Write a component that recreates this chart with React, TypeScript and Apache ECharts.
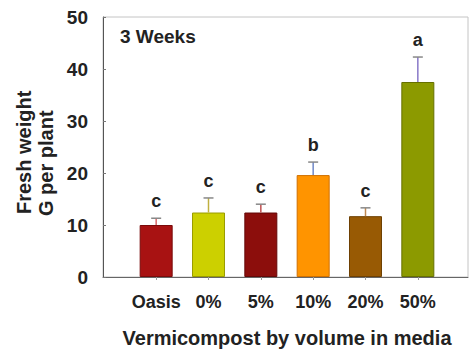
import React, { useEffect, useRef } from "react";
import * as echarts from "echarts";

const categories = ["Oasis", "0%", "5%", "10%", "20%", "50%"];
const means = [10.0, 12.4, 12.4, 19.6, 11.7, 37.5];
const errors = [1.3, 2.8, 1.6, 2.5, 1.6, 4.8];
const letters = ["c", "c", "c", "b", "c", "a"];
const yTicks = [0, 10, 20, 30, 40, 50];

const barColors = ["#a81212", "#ccd000", "#8c0e0c", "#ff9400", "#985a04", "#8c9a00"];
const barBorders = ["#7a0a0a", "#9a9c00", "#640808", "#d07000", "#6e4002", "#667000"];
const errColors = ["#d86868", "#c0b040", "#c05050", "#7088c8", "#c08850", "#8878c8"];

const FONT = "'Liberation Sans', Arial, sans-serif";

export default function App() {
  const ref = useRef<HTMLDivElement>(null);
  useEffect(() => {
    if (!ref.current) return;
    const chart = echarts.init(ref.current, null, { renderer: "svg" });
    chart.setOption({
      animation: false,
      backgroundColor: "#ffffff",
      textStyle: { fontFamily: FONT },
      grid: [
        { left: 103, right: 2, top: 17, bottom: 72, show: true, borderColor: "#c4c4c4", borderWidth: 1, backgroundColor: "transparent" },
        { left: 130, right: 26, top: 17, bottom: 72 },
      ],
      xAxis: [
        {
          gridIndex: 0, type: "value", min: 0, max: 1,
          axisLine: { show: true, lineStyle: { color: "#666", width: 1 } },
          axisTick: { show: false }, axisLabel: { show: false }, splitLine: { show: false },
        },
        {
          gridIndex: 1, type: "category", data: categories,
          axisLine: { show: false },
          axisTick: { show: true, alignWithLabel: true, interval: 0, length: 3, lineStyle: { color: "#999" } },
          axisLabel: { interval: 0, margin: 16, fontSize: 18, fontWeight: "bold", color: "#222", fontFamily: FONT },
        },
      ],
      yAxis: [
        {
          gridIndex: 0, type: "value", min: yTicks[0], max: yTicks[yTicks.length - 1], interval: 10,
          axisLine: { show: true, lineStyle: { color: "#555", width: 1 } },
          axisTick: { show: true, inside: true, length: 3, lineStyle: { color: "#777" } },
          axisLabel: { margin: 15, fontSize: 19, fontWeight: "bold", color: "#222", fontFamily: FONT },
          splitLine: { show: false },
        },
        { gridIndex: 1, type: "value", min: 0, max: 50, show: false },
      ],
      series: [
        {
          type: "bar", xAxisIndex: 1, yAxisIndex: 1, barWidth: 33,
          data: means.map((v, i) => ({
            value: v,
            itemStyle: { color: barColors[i], borderColor: barBorders[i], borderWidth: 1 },
          })),
        },
        {
          type: "custom", xAxisIndex: 1, yAxisIndex: 1, z: 5,
          data: means.map((m, i) => [i, m, m + errors[i]]),
          renderItem: (params: any, api: any) => {
            const i = params.dataIndex;
            const base = api.coord([api.value(0), api.value(1)]);
            const top = api.coord([api.value(0), api.value(2)]);
            const col = errColors[i];
            return {
              type: "group",
              children: [
                { type: "line", shape: { x1: base[0], y1: base[1], x2: top[0], y2: top[1] }, style: { stroke: col, lineWidth: 1.5 } },
                { type: "line", shape: { x1: top[0] - 5, y1: top[1], x2: top[0] + 5, y2: top[1] }, style: { stroke: "#888", lineWidth: 1.5 } },
                {
                  type: "text", x: top[0], y: top[1] - 8,
                  style: { text: letters[i], align: "center", verticalAlign: "bottom", fontSize: 18, fontWeight: "bold", fill: "#222", fontFamily: FONT },
                },
              ],
            };
          },
        },
      ],
      graphic: [
        { type: "text", x: 120, y: 36, style: { text: "3 Weeks", align: "left", verticalAlign: "middle", fontSize: 19, fontWeight: "bold", fill: "#222", fontFamily: FONT } },
        { type: "text", x: 24, y: 214, rotation: Math.PI / 2, style: { text: "Fresh weight", align: "left", verticalAlign: "middle", fontSize: 20, fontWeight: "bold", fill: "#222", fontFamily: FONT } },
        { type: "text", x: 46, y: 216, rotation: Math.PI / 2, style: { text: "G per plant", align: "left", verticalAlign: "middle", fontSize: 20, fontWeight: "bold", fill: "#222", fontFamily: FONT } },
        { type: "text", x: 287, y: 338, style: { text: "Vermicompost by volume in media", align: "center", verticalAlign: "middle", fontSize: 20, fontWeight: "bold", fill: "#222", fontFamily: FONT } },
      ],
    });
    return () => chart.dispose();
  }, []);
  return <div ref={ref} style={{ position: "absolute", left: 0, top: 0, width: 470, height: 349 }} />;
}
